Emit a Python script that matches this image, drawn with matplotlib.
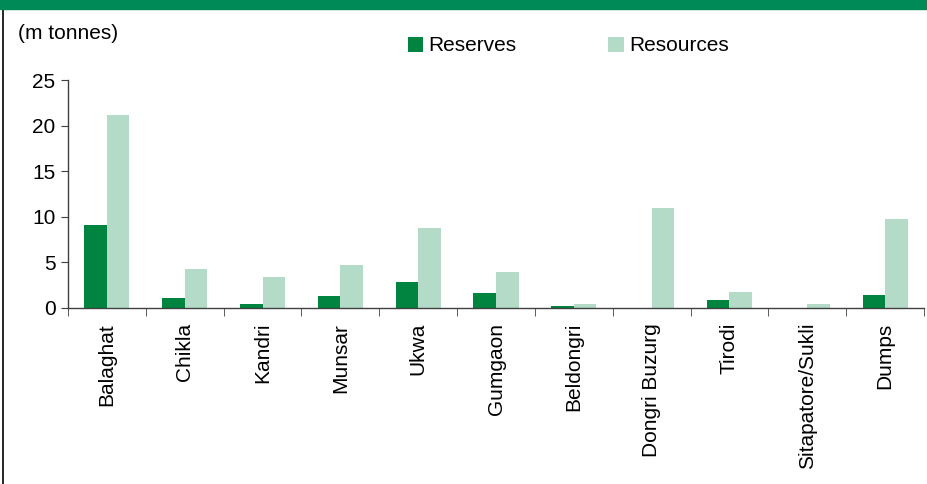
import numpy as np
import matplotlib.pyplot as plt
from matplotlib.patches import Rectangle
from matplotlib.lines import Line2D

# dane
mines = ['Balaghat', 'Chikla', 'Kandri', 'Munsar', 'Ukwa', 'Gumgaon',
         'Beldongri', 'Dongri Buzurg', 'Tirodi', 'Sitapatore/Sukli', 'Dumps']
reserves = [9.1, 1.1, 0.4, 1.25, 2.8, 1.6, 0.15, 0.0, 0.8, 0.0, 1.35]
resources = [21.2, 4.2, 3.4, 4.65, 8.8, 3.9, 0.45, 11.0, 1.7, 0.4, 9.7]
yticks = [0, 5, 10, 15, 20, 25]

dark = '#00843F'
light = '#B3DBC8'
band = '#008A57'

plt.rcParams['font.family'] = ['Liberation Sans', 'DejaVu Sans']

fig = plt.figure(figsize=(9.28, 4.84), dpi=100)
ax = fig.add_axes([0.0733, 0.3643, 0.9224, 0.4704])

x = np.arange(len(mines))
w = 0.29
ax.bar(x - w / 2, reserves, w, color=dark, label='Reserves')
ax.bar(x + w / 2, resources, w, color=light, label='Resources')

ax.set_xlim(-0.5, len(mines) - 0.5)
ax.set_ylim(0, 25)
ax.set_yticks(yticks)
ax.tick_params(axis='y', labelsize=15, length=5, color='#404040', pad=4)
ax.set_xticks(x)
ax.set_xticklabels(mines, rotation=90, fontsize=15)
ax.tick_params(axis='x', which='major', length=0, pad=11)
ax.set_xticks(np.arange(len(mines) + 1) - 0.5, minor=True)
ax.tick_params(axis='x', which='minor', length=6, color='#404040', direction='out')

for s in ['top', 'right']:
    ax.spines[s].set_visible(False)
for s in ['left', 'bottom']:
    ax.spines[s].set_color('#404040')
    ax.spines[s].set_linewidth(1.0)

fig.text(0.019, 0.93, '(m tonnes)', fontsize=15, va='center', ha='left')

fig.legend(loc='center left', bbox_to_anchor=(0.4305, 0.905), ncol=2, frameon=False,
           fontsize=15, handlelength=0.75, handleheight=0.75, handletextpad=0.25,
           columnspacing=4.4, borderaxespad=0)

# pasek u gory i ramka z lewej
fig.patches.append(Rectangle((0, 1 - 8.5 / 484), 1, 8.5 / 484, transform=fig.transFigure,
                             color=band, zorder=5))
fig.lines.append(Line2D([3.5 / 928, 3.5 / 928], [0, 1 - 8.5 / 484], transform=fig.transFigure,
                        color='black', linewidth=1.2))

fig.savefig('out.png', dpi=100)
